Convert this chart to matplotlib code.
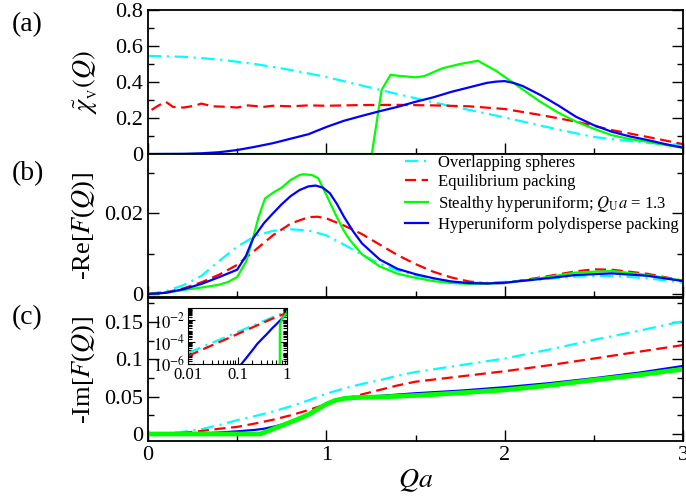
import numpy as np
import matplotlib
matplotlib.use('Agg')
import matplotlib.pyplot as plt
from matplotlib.ticker import MultipleLocator, FuncFormatter, FixedLocator, LogLocator, NullFormatter

plt.rcParams['font.family'] = ['Liberation Serif', 'DejaVu Serif']
plt.rcParams['mathtext.fontset'] = 'stix'

CYAN = '#00ffff'
RED = '#ff0000'
GREEN = '#00ff00'
BLUE = '#0000ff'

# ---- panel (a): spectral density chi_V(Q)
qa_cyan_a = [0.0, 0.2, 0.4, 0.6, 0.8, 1.0, 1.2, 1.4, 1.6, 1.8, 2.0, 2.2, 2.4, 2.5, 2.6, 2.8, 3.0]
chi_cyan = [0.545, 0.54, 0.525, 0.5, 0.467, 0.428, 0.38, 0.333, 0.287, 0.245, 0.203, 0.158, 0.115, 0.095, 0.082, 0.062, 0.05]

qa_red_a = [0.02, 0.06, 0.1, 0.14, 0.2, 0.26, 0.3, 0.36, 0.45, 0.5, 0.56, 0.65, 0.7, 0.8, 0.9, 1.0,
            1.2, 1.4, 1.6, 1.8, 2.0, 2.2, 2.4, 2.6, 2.8, 3.0]
chi_red = [0.245, 0.27, 0.29, 0.262, 0.258, 0.268, 0.28, 0.265, 0.262, 0.258, 0.27, 0.262, 0.268, 0.265,
           0.27, 0.268, 0.272, 0.273, 0.27, 0.265, 0.25, 0.217, 0.18, 0.133, 0.095, 0.055]

qa_green_a = [0.0, 1.255, 1.31, 1.36, 1.4, 1.5, 1.55, 1.65, 1.75, 1.85, 1.95, 2.05, 2.2, 2.3, 2.4, 2.5,
              2.6, 2.7, 2.8, 2.9, 3.0]
chi_green = [0.0, 0.0, 0.356, 0.44, 0.435, 0.426, 0.433, 0.476, 0.5, 0.518, 0.463, 0.394, 0.29, 0.23,
             0.18, 0.14, 0.105, 0.083, 0.068, 0.05, 0.035]

qa_blue_a = [0.0, 0.2, 0.3, 0.4, 0.5, 0.6, 0.7, 0.8, 0.9, 1.0, 1.1, 1.2, 1.3, 1.4, 1.5, 1.6, 1.7, 1.8,
             1.9, 1.95, 2.0, 2.05, 2.1, 2.2, 2.3, 2.4, 2.5, 2.6, 2.7, 2.8, 2.9, 3.0]
chi_blue = [0.0, 0.001, 0.004, 0.01, 0.022, 0.04, 0.06, 0.085, 0.11, 0.15, 0.185, 0.212, 0.238, 0.262,
            0.29, 0.315, 0.345, 0.37, 0.395, 0.402, 0.405, 0.395, 0.378, 0.328, 0.27, 0.207, 0.16,
            0.124, 0.098, 0.078, 0.055, 0.035]

# ---- panel (b): -Re[F(Q)]
qb = [0.0, 0.1, 0.2, 0.3, 0.4, 0.5, 0.6, 0.7, 0.8, 0.9, 1.0, 1.1, 1.2, 1.3, 1.4, 1.5, 1.6, 1.7, 1.8,
      1.9, 2.0, 2.2, 2.4, 2.6, 2.8, 3.0]
re_cyan = [0.0, 0.0007, 0.0022, 0.0045, 0.0082, 0.0117, 0.0143, 0.0156, 0.016, 0.0157, 0.0145, 0.0122,
           0.0097, 0.0075, 0.0058, 0.0046, 0.0037, 0.0031, 0.0028, 0.0028, 0.003, 0.0036, 0.0043,
           0.0045, 0.0039, 0.0028]

qb_red = [0.0, 0.1, 0.2, 0.3, 0.4, 0.5, 0.6, 0.7, 0.8, 0.9, 0.95, 1.0, 1.1, 1.2, 1.3, 1.4, 1.5, 1.6,
          1.7, 1.8, 1.9, 2.0, 2.2, 2.4, 2.5, 2.6, 2.8, 3.0]
re_red = [0.0, 0.0004, 0.0014, 0.0029, 0.0048, 0.0072, 0.0108, 0.0145, 0.0174, 0.019, 0.0191, 0.0187,
          0.0169, 0.0148, 0.0122, 0.0096, 0.0074, 0.0055, 0.0041, 0.0031, 0.0026, 0.0027, 0.0041,
          0.0056, 0.0061, 0.006, 0.005, 0.0033]

qb_green = [0.0, 0.1, 0.2, 0.3, 0.4, 0.45, 0.5, 0.55, 0.59, 0.62, 0.656, 0.7, 0.75, 0.8, 0.85, 0.87,
            0.92, 0.955, 1.0, 1.05, 1.1, 1.133, 1.2, 1.3, 1.4, 1.5, 1.6, 1.7, 1.8, 2.0, 2.2, 2.4,
            2.6, 2.8, 3.0]
re_green = [0.0, 0.0003, 0.001, 0.0016, 0.0023, 0.003, 0.0042, 0.008, 0.014, 0.019, 0.0236, 0.025,
            0.0263, 0.0282, 0.0294, 0.0296, 0.0294, 0.0286, 0.0245, 0.0198, 0.0155, 0.0133, 0.0098,
            0.0068, 0.005, 0.004, 0.0032, 0.0027, 0.0025, 0.0027, 0.0039, 0.0053, 0.0057, 0.0047,
            0.0033]

qb_blue = [0.0, 0.1, 0.2, 0.3, 0.4, 0.5, 0.55, 0.59, 0.65, 0.7, 0.75, 0.8, 0.85, 0.9, 0.94, 0.98,
           1.02, 1.06, 1.1, 1.15, 1.2, 1.3, 1.4, 1.5, 1.6, 1.7, 1.8, 1.9, 2.0, 2.2, 2.4, 2.6, 2.8, 3.0]
re_blue = [0.0, 0.0003, 0.0012, 0.0025, 0.0042, 0.006, 0.0095, 0.0138, 0.0175, 0.0199, 0.0222, 0.0242,
           0.0257, 0.0266, 0.0268, 0.0263, 0.0249, 0.0222, 0.019, 0.0155, 0.0125, 0.0085, 0.0062,
           0.0049, 0.0039, 0.0031, 0.0027, 0.0026, 0.0028, 0.0037, 0.0047, 0.0051, 0.0045, 0.0032]

# ---- panel (c): -Im[F(Q)]
qc = [0.0, 0.1, 0.2, 0.3, 0.4, 0.5, 0.6, 0.7, 0.8, 0.9, 1.0, 1.1, 1.2, 1.3, 1.4, 1.5, 1.75, 2.0,
      2.25, 2.5, 2.75, 3.0]
im_cyan = [0.0, 0.0008, 0.003, 0.0065, 0.012, 0.0185, 0.024, 0.03, 0.037, 0.045, 0.054, 0.061, 0.067,
           0.072, 0.078, 0.083, 0.092, 0.101, 0.113, 0.126, 0.138, 0.151]
im_red = [0.0, 0.0003, 0.0015, 0.004, 0.007, 0.0095, 0.014, 0.019, 0.025, 0.032, 0.04, 0.047, 0.053,
          0.059, 0.065, 0.07, 0.077, 0.084, 0.092, 0.101, 0.11, 0.119]

qc_blue = [0.0, 0.2, 0.3, 0.4, 0.5, 0.6, 0.65, 0.7, 0.75, 0.8, 0.85, 0.9, 0.95, 1.0, 1.05, 1.1, 1.15,
           1.2, 1.3, 1.5, 1.75, 2.0, 2.25, 2.5, 2.75, 3.0]
im_blue = [0.0, 0.0003, 0.0008, 0.002, 0.0035, 0.0055, 0.007, 0.0095, 0.0125, 0.0165, 0.021, 0.027,
           0.034, 0.041, 0.0455, 0.0482, 0.0493, 0.05, 0.051, 0.0545, 0.058, 0.0626, 0.068, 0.0746,
           0.082, 0.091]

qc_green = [0.0, 0.63, 0.83, 0.9, 0.95, 1.0, 1.05, 1.1, 1.15, 1.2, 1.3, 1.5, 1.75, 2.0, 2.25, 2.5,
            2.75, 3.0]
im_green = [0.0, 0.0, 0.0188, 0.026, 0.033, 0.04, 0.045, 0.0475, 0.0485, 0.049, 0.0495, 0.0515, 0.055,
            0.059, 0.065, 0.0723, 0.079, 0.0867]

# ---- inset (log-log of -Im[F(Q)])
qi = [0.01, 0.02, 0.05, 0.1, 0.2, 0.5, 1.0]
ins_cyan = [1.0e-5, 3.8e-5, 2.2e-4, 8.3e-4, 3.1e-3, 1.8e-2, 6.5e-2]
ins_red = [5.4e-6, 2.2e-5, 1.35e-4, 5.4e-4, 2.2e-3, 1.35e-2, 4.7e-2]
qi_blue = [0.1, 0.12, 0.15, 0.2, 0.25, 0.3, 0.4, 0.5, 0.6, 0.7, 0.8, 0.9, 1.0]
ins_blue = [3e-7, 1e-6, 3.5e-6, 1.8e-5, 6.8e-5, 1.6e-4, 6e-4, 1.8e-3, 4e-3, 8e-3, 1.5e-2, 2.6e-2, 4.2e-2]
qi_green = [0.715, 0.718, 0.73, 0.76, 0.8, 0.9, 1.0]
ins_green = [1e-8, 2e-3, 4.7e-3, 8e-3, 1.3e-2, 2.8e-2, 4.2e-2]

labels = ['Overlapping spheres', 'Equilibrium packing',
          r'Stealthy hyperuniform; $Q_{\rm U}a$ = 1.3', 'Hyperuniform polydisperse packing']

W, H = 686, 498
fig = plt.figure(figsize=(W / 100, H / 100), dpi=100)


def px_axes(x0, y0, x1, y1):
    return fig.add_axes([x0 / W, 1 - y1 / H, (x1 - x0) / W, (y1 - y0) / H])


ax_a = px_axes(148, 10, 683, 154)
ax_b = px_axes(148, 154, 683, 297)
ax_c = px_axes(148, 298, 683, 441)

LW = 1.6
DASHDOT = (6, 2.5, 1, 2.5)
DASHED = (5, 2.5)

fmt = FuncFormatter(lambda v, p: '%g' % round(v, 6))

for ax in (ax_a, ax_b, ax_c):
    ax.set_xlim(0, 3)
    ax.xaxis.set_major_locator(MultipleLocator(1))
    ax.xaxis.set_minor_locator(MultipleLocator(0.5))
    ax.tick_params(which='both', direction='in', right=True, top=False, labelsize=16, width=1.0)
    ax.tick_params(which='major', length=8)
    ax.tick_params(which='minor', length=4.5)
    ax.yaxis.set_major_formatter(fmt)
    for s in ax.spines.values():
        s.set_linewidth(1.3)

# (a)
ax_a.plot(qa_cyan_a, chi_cyan, color=CYAN, lw=LW, dashes=DASHDOT)
ax_a.plot(qa_red_a, chi_red, color=RED, lw=LW, dashes=DASHED)
ax_a.plot(qa_green_a, chi_green, color=GREEN, lw=LW)
ax_a.plot(qa_blue_a, chi_blue, color=BLUE, lw=LW)
ax_a.set_ylim(0, 0.8)
ax_a.yaxis.set_major_locator(MultipleLocator(0.2))
ax_a.yaxis.set_minor_locator(MultipleLocator(0.1))
ax_a.tick_params(labelbottom=False)
ax_a.set_ylabel(r'$\tilde{\chi}_{_{\rm V}}(Q)$', fontsize=19)
ax_a.yaxis.set_label_coords(-0.09, 0.5)

# (b)
hc, = ax_b.plot(qb, re_cyan, color=CYAN, lw=LW, dashes=DASHDOT)
hr, = ax_b.plot(qb_red, re_red, color=RED, lw=LW, dashes=DASHED)
hg, = ax_b.plot(qb_green, re_green, color=GREEN, lw=LW)
hb, = ax_b.plot(qb_blue, re_blue, color=BLUE, lw=LW)
ax_b.set_ylim(-0.00074, 0.0346)
ax_b.yaxis.set_major_locator(MultipleLocator(0.02))
ax_b.yaxis.set_minor_locator(MultipleLocator(0.01))
ax_b.tick_params(labelbottom=False)
ax_b.set_ylabel(r'-Re[$F$($Q$)]', fontsize=19)
ax_b.yaxis.set_label_coords(-0.095, 0.5)
ax_b.legend([hc, hr, hg, hb], labels, loc='upper left', bbox_to_anchor=(405 / W, 1 - 155 / H),
            bbox_transform=fig.transFigure, frameon=False, fontsize=12, borderpad=0,
            borderaxespad=0, handlelength=1.35, handletextpad=0.65, labelspacing=0.2)

# (c)
ax_c.plot(qc, im_cyan, color=CYAN, lw=LW, dashes=DASHDOT)
ax_c.plot(qc, im_red, color=RED, lw=LW, dashes=DASHED)
ax_c.plot(qc_blue, im_blue, color=BLUE, lw=LW)
ax_c.plot(qc_green, im_green, color=GREEN, lw=3.4)
ax_c.set_ylim(-0.0094, 0.182)
ax_c.yaxis.set_major_locator(MultipleLocator(0.05))
ax_c.yaxis.set_minor_locator(MultipleLocator(0.025))
ax_c.xaxis.set_major_formatter(fmt)
ax_c.set_ylabel(r'-Im[$F$($Q$)]', fontsize=19)
ax_c.yaxis.set_label_coords(-0.095, 0.5)
ax_c.set_xlabel(r'$Qa$', fontsize=20, labelpad=2)

# inset
ax_i = px_axes(188, 308, 287, 364)
ax_i.plot(qi, ins_cyan, color=CYAN, lw=LW, dashes=DASHDOT)
ax_i.plot(qi, ins_red, color=RED, lw=LW, dashes=DASHED)
ax_i.plot(qi_blue, ins_blue, color=BLUE, lw=LW)
ax_i.plot(qi_green, ins_green, color=GREEN, lw=LW)
ax_i.set_xscale('log')
ax_i.set_yscale('log')
ax_i.set_xlim(0.01, 1)
ax_i.set_ylim(1e-6, 0.13)
ax_i.xaxis.set_major_locator(FixedLocator([0.01, 0.1, 1]))
ax_i.xaxis.set_major_formatter(FuncFormatter(lambda v, p: '%g' % v))
ax_i.xaxis.set_minor_locator(LogLocator(base=10, subs=np.arange(2, 10), numticks=20))
ax_i.xaxis.set_minor_formatter(NullFormatter())
ax_i.yaxis.set_major_locator(FixedLocator([1e-6, 1e-4, 1e-2]))
ax_i.yaxis.set_major_formatter(FuncFormatter(lambda v, p: r'$10^{%d}$' % round(np.log10(v))))
ax_i.yaxis.set_minor_locator(LogLocator(base=10, subs=np.arange(1, 10), numticks=40))
ax_i.yaxis.set_minor_formatter(NullFormatter())
ax_i.tick_params(which='both', direction='in', right=True, top=False, labelsize=12, width=0.8, pad=2)
ax_i.tick_params(which='major', length=5)
ax_i.tick_params(which='minor', length=3)

# panel labels
fig.text(12 / W, 1 - 25 / H, '(a)', fontsize=20, va='center', ha='left')
fig.text(12 / W, 1 - 174 / H, '(b)', fontsize=20, va='center', ha='left')
fig.text(12 / W, 1 - 318 / H, '(c)', fontsize=20, va='center', ha='left')

fig.savefig('out.png', dpi=100)
